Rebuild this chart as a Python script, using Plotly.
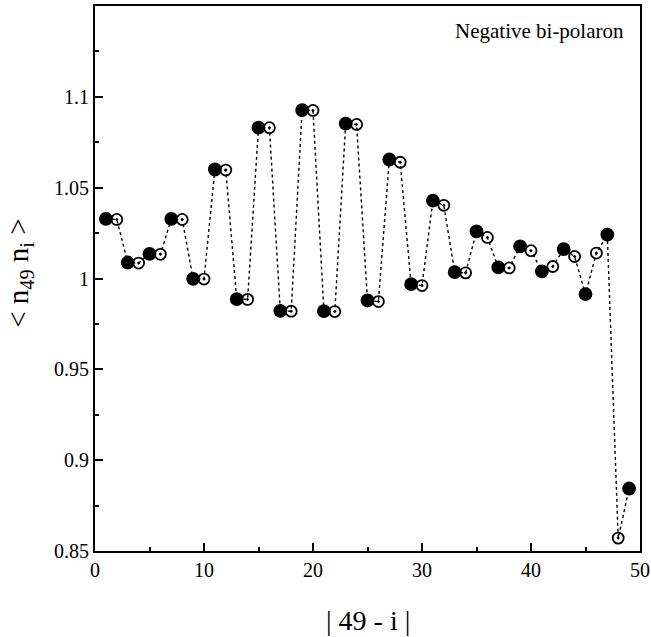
import plotly.graph_objects as go

distance = list(range(1, 50))
correlation = [
    1.0328, 1.0325, 1.0088, 1.0085, 1.0135, 1.0133, 1.0328, 1.0325, 0.9998, 0.9997,
    1.0600, 1.0597, 0.9886, 0.9885, 1.0830, 1.0830, 0.9822, 0.9820, 1.0927, 1.0925,
    0.9820, 0.9818, 1.0853, 1.0848, 0.9879, 0.9873, 1.0655, 1.0640, 0.9969, 0.9961,
    1.0429, 1.0403, 1.0035, 1.0031, 1.0259, 1.0226, 1.0061, 1.0058, 1.0177, 1.0153,
    1.0039, 1.0066, 1.0162, 1.0121, 0.9914, 1.0140, 1.0241, 0.8571, 0.8844,
]
y_ticks = [0.85, 0.9, 0.95, 1.0, 1.05, 1.1]
y_tick_labels = ["0.85", "0.9", "0.95", "1", "1.05", "1.1"]
x_ticks = [0, 10, 20, 30, 40, 50]
x_tick_labels = ["0", "10", "20", "30", "40", "50"]

symbols = ["circle" if d % 2 == 1 else "circle-open-dot" for d in distance]
sizes = [12 if d % 2 == 1 else 11 for d in distance]

fig = go.Figure()
fig.add_trace(go.Scatter(
    x=distance, y=correlation, mode="lines+markers",
    line=dict(color="#000000", width=1.4, dash="dot"),
    marker=dict(symbol=symbols, size=sizes, color="#000000", opacity=1,
                line=dict(color="#000000", width=1.8)),
    showlegend=False, cliponaxis=False, hoverinfo="skip",
))

serif = "Liberation Serif"
fig.update_layout(
    width=651, height=637,
    margin=dict(l=95, r=11, t=6, b=86, autoexpand=False),
    paper_bgcolor="white", plot_bgcolor="white",
    hovermode=False,
    font=dict(family=serif, color="black", size=20),
    xaxis=dict(
        range=[0, 50], tickvals=x_ticks, ticktext=x_tick_labels, ticks="inside",
        ticklen=8, tickwidth=2, automargin=False,
        tickfont=dict(family=serif, size=20, color="black"),
        tickcolor="black", showline=True, linewidth=2, linecolor="black", mirror=True,
        showgrid=False, zeroline=False,
        minor=dict(tickvals=[5, 15, 25, 35, 45], ticks="inside", ticklen=4, tickwidth=2,
                   tickcolor="black"),
    ),
    yaxis=dict(
        range=[0.85, 1.15], tickvals=y_ticks, ticktext=y_tick_labels, ticks="inside",
        ticklen=8, tickwidth=2, tickcolor="black", showline=True, linewidth=2,
        automargin=False, tickfont=dict(family=serif, size=20, color="black"),
        linecolor="black", mirror=True, showgrid=False, zeroline=False,
        minor=dict(tickvals=[0.875, 0.925, 0.975, 1.025, 1.075, 1.125], ticks="inside",
                   ticklen=4, tickwidth=2, tickcolor="black"),
    ),
    annotations=[
        dict(x=0.975, y=0.954, xref="paper", yref="paper", xanchor="right", yanchor="middle",
             text="Negative bi-polaron", showarrow=False,
             font=dict(size=21, family=serif, color="black")),
        dict(x=0.5, y=-0.128, xref="paper", yref="paper", xanchor="center", yanchor="middle",
             text="| 49 - i |", showarrow=False,
             font=dict(size=28, family=serif, color="black")),
        dict(x=-0.138, y=0.51, xref="paper", yref="paper", xanchor="center", yanchor="middle",
             text="< n<sub>49</sub> n<sub>i</sub> >", showarrow=False, textangle=-90,
             font=dict(size=29, family=serif, color="black")),
    ],
)

fig.write_html(
    "out.html",
    config={"displayModeBar": False, "staticPlot": True},
    post_script="document.body.style.margin='0';document.body.style.overflow='hidden';",
)
